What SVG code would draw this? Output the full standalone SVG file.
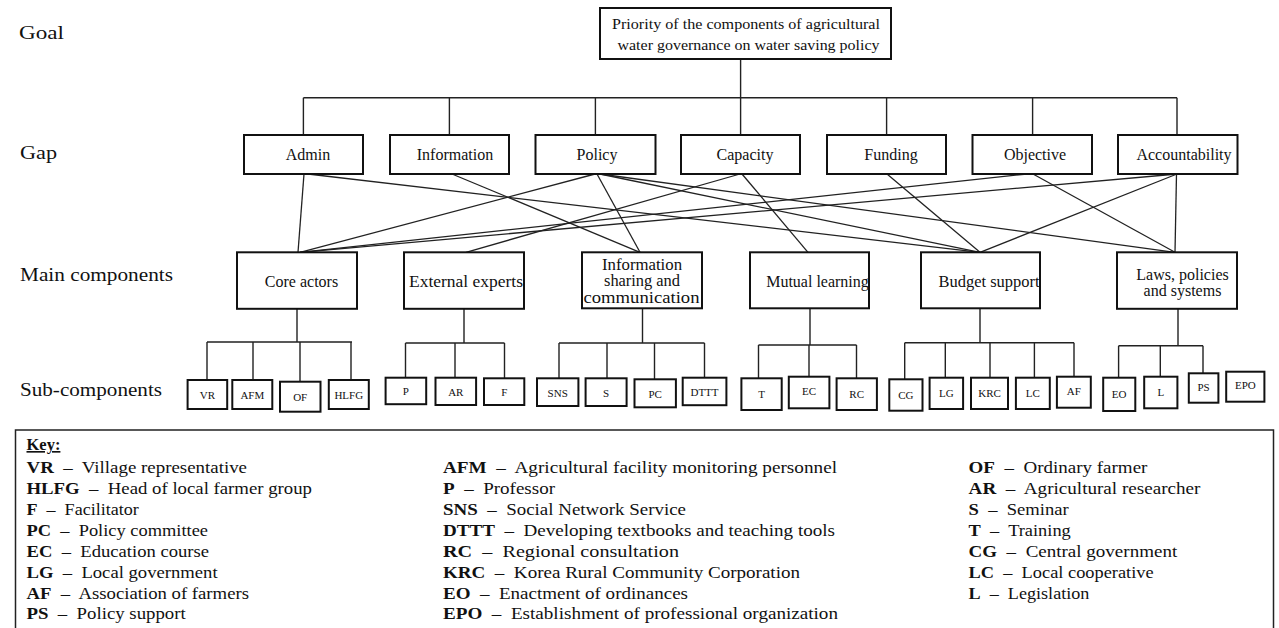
<svg xmlns="http://www.w3.org/2000/svg" width="1279" height="628" viewBox="0 0 1279 628">
  <style>
    text { font-family: "Liberation Serif", "Times New Roman", serif; fill: #111; }
    .box { fill: #fff; stroke: #111; stroke-width: 2; }
    .sub { fill: #fff; stroke: #111; stroke-width: 2; }
    .ln { fill: none; stroke: #222; stroke-width: 1.3; }
    .tree { fill: none; stroke: #222; stroke-width: 1.4; }
    .lvl { font-size: 19.5px; }
    .gap { font-size: 16px; text-anchor: middle; }
    .main { font-size: 16px; text-anchor: middle; }
    .info { font-size: 16px; text-anchor: middle; }
    .sl { font-size: 11px; text-anchor: middle; }
    .goal { font-size: 15px; }
    .key { font-size: 16.5px; }
    .ab { font-weight: bold; }
  </style>

  <!-- level labels -->
  <g id="levels">
    <text class="lvl" x="19" y="39" textLength="45" lengthAdjust="spacingAndGlyphs">Goal</text>
    <text class="lvl" x="20" y="159" textLength="37" lengthAdjust="spacingAndGlyphs">Gap</text>
    <text class="lvl" x="20" y="281" textLength="153" lengthAdjust="spacingAndGlyphs">Main components</text>
    <text class="lvl" x="20" y="396" textLength="142" lengthAdjust="spacingAndGlyphs">Sub-components</text>
  </g>

  <!-- connectors -->
  <g id="connectors">
    <!-- goal to gaps -->
    <path class="tree" d="M740.6 59 V97.7 M303.4 97.7 H1177 M303.4 97.7 V135 M449.4 97.7 V135 M595.4 97.7 V135 M740.6 97.7 V135 M886.6 97.7 V135 M1032.6 97.7 V135 M1177 97.7 V135"/>
    <!-- gaps to main components -->
    <line class="ln" x1="304" y1="174" x2="298" y2="252.3"/>
    <line class="ln" x1="308" y1="174" x2="980" y2="252.3"/>
    <line class="ln" x1="452" y1="174" x2="640" y2="252.3"/>
    <line class="ln" x1="595" y1="174" x2="300" y2="252.3"/>
    <line class="ln" x1="597" y1="174" x2="640" y2="252.3"/>
    <line class="ln" x1="600" y1="174" x2="980" y2="252.3"/>
    <line class="ln" x1="600" y1="174" x2="1175" y2="252.3"/>
    <line class="ln" x1="740" y1="174" x2="466" y2="252.3"/>
    <line class="ln" x1="742" y1="174" x2="808" y2="252.3"/>
    <line class="ln" x1="887" y1="174" x2="980" y2="252.3"/>
    <line class="ln" x1="1027" y1="174" x2="300" y2="252.3"/>
    <line class="ln" x1="1033" y1="174" x2="1175" y2="252.3"/>
    <line class="ln" x1="1177" y1="174" x2="300" y2="252.3"/>
    <line class="ln" x1="1177" y1="174" x2="980" y2="252.3"/>
    <line class="ln" x1="1176.5" y1="174" x2="1175" y2="252.3"/>
    <!-- main components to sub-components -->
    <path class="tree" d="M297 309 V342 M207 342 H352 M207 342 V380 M253 342 V380 M300 342 V381.7 M351 342 V380"/>
    <path class="tree" d="M464 309 V343 M405.5 343 H504.5 M405.5 343 V377.7 M455 343 V377.7 M504.5 343 V378.3"/>
    <path class="tree" d="M642.5 308.5 V343 M559 343 H704.5 M559 343 V378.3 M607 343 V378.3 M654.5 343 V379.3 M704.5 343 V377.7"/>
    <path class="tree" d="M810 308.5 V345 M758.5 345 H856.5 M758.5 345 V378.3 M809 345 V376.7 M856.5 345 V378.3"/>
    <path class="tree" d="M980 308.5 V342.7 M904.7 342.7 H1074 M904.7 342.7 V379.3 M945.3 342.7 V377.7 M990 342.7 V377.7 M1034.4 342.7 V377.7 M1074 342.7 V376.7"/>
    <path class="tree" d="M1178 309 V345.7 M1118.6 345.7 H1203 M1118.6 345.7 V377.7 M1160.3 345.7 V376.7 M1203 345.7 V373.3"/>
  </g>

  <!-- goal -->
  <g id="goal">
    <rect class="box" x="600" y="8" width="291" height="51"/>
    <text class="goal" x="612" y="29" textLength="268" lengthAdjust="spacingAndGlyphs">Priority of the components of agricultural</text>
    <text class="goal" x="617.5" y="50" textLength="262" lengthAdjust="spacingAndGlyphs">water governance on water saving policy</text>
  </g>

  <!-- gaps -->
  <g id="gap-admin"><rect class="box" x="244" y="135" width="119" height="39"/><text class="gap" x="308" y="160">Admin</text></g>
  <g id="gap-information"><rect class="box" x="390" y="135" width="119" height="39"/><text class="gap" x="455" y="160">Information</text></g>
  <g id="gap-policy"><rect class="box" x="535.5" y="135" width="120" height="39"/><text class="gap" x="597" y="160">Policy</text></g>
  <g id="gap-capacity"><rect class="box" x="681" y="135" width="119" height="39"/><text class="gap" x="745" y="160">Capacity</text></g>
  <g id="gap-funding"><rect class="box" x="827" y="135" width="119" height="39"/><text class="gap" x="891" y="160">Funding</text></g>
  <g id="gap-objective"><rect class="box" x="972.5" y="135" width="119.5" height="39"/><text class="gap" x="1035" y="160">Objective</text></g>
  <g id="gap-accountability"><rect class="box" x="1118" y="135" width="119.5" height="39"/><text class="gap" x="1184" y="160">Accountability</text></g>

  <!-- main components -->
  <g id="main-core-actors"><rect class="box" x="237" y="252.3" width="120" height="56.5"/><text class="main" x="301.5" y="287">Core actors</text></g>
  <g id="main-external-experts"><rect class="box" x="404" y="252.3" width="120" height="56.5"/><text class="main" x="466" y="287" textLength="114" lengthAdjust="spacingAndGlyphs">External experts</text></g>
  <g id="main-information-sharing">
    <rect class="box" x="582" y="252.3" width="120" height="56"/>
    <text class="info" x="642" y="269.5" textLength="80" lengthAdjust="spacingAndGlyphs">Information</text>
    <text class="info" x="642" y="286" textLength="76" lengthAdjust="spacingAndGlyphs">sharing and</text>
    <text class="info" x="641.5" y="302.5" textLength="116" lengthAdjust="spacingAndGlyphs">communication</text>
  </g>
  <g id="main-mutual-learning"><rect class="box" x="750" y="252.3" width="119" height="56"/><text class="main" x="817.5" y="287">Mutual learning</text></g>
  <g id="main-budget-support"><rect class="box" x="921" y="252.3" width="119" height="56"/><text class="main" x="989" y="287" textLength="101" lengthAdjust="spacingAndGlyphs">Budget support</text></g>
  <g id="main-laws">
    <rect class="box" x="1117" y="252.3" width="120" height="56.5"/>
    <text class="main" x="1182.5" y="279.5">Laws, policies</text>
    <text class="main" x="1182.5" y="296">and systems</text>
  </g>

  <!-- sub-components -->
  <g id="sub-vr"><rect class="sub" x="187.6" y="380" width="39.6" height="29"/><text class="sl" x="207.4" y="398.5">VR</text></g>
  <g id="sub-afm"><rect class="sub" x="232.3" y="380" width="40" height="29"/><text class="sl" x="252.3" y="398.5">AFM</text></g>
  <g id="sub-of"><rect class="sub" x="280" y="381.7" width="40.5" height="30"/><text class="sl" x="300.2" y="401">OF</text></g>
  <g id="sub-hlfg"><rect class="sub" x="328.8" y="380" width="40" height="29"/><text class="sl" x="348.8" y="398.5">HLFG</text></g>
  <g id="sub-p"><rect class="sub" x="385.6" y="377.7" width="40.6" height="26.5"/><text class="sl" x="405.9" y="395">P</text></g>
  <g id="sub-ar"><rect class="sub" x="435.5" y="377.7" width="40.6" height="27.3"/><text class="sl" x="455.8" y="395.5">AR</text></g>
  <g id="sub-f"><rect class="sub" x="484" y="378.3" width="40.3" height="26.7"/><text class="sl" x="504.2" y="396">F</text></g>
  <g id="sub-sns"><rect class="sub" x="537" y="378.3" width="41.4" height="27.7"/><text class="sl" x="557.7" y="396.5">SNS</text></g>
  <g id="sub-s"><rect class="sub" x="585.6" y="378.3" width="41" height="27.7"/><text class="sl" x="606.1" y="396.5">S</text></g>
  <g id="sub-pc"><rect class="sub" x="634.5" y="379.3" width="41.4" height="28"/><text class="sl" x="655.2" y="398">PC</text></g>
  <g id="sub-dttt"><rect class="sub" x="682.7" y="377.7" width="43.7" height="27.5"/><text class="sl" x="704.5" y="396">DTTT</text></g>
  <g id="sub-t"><rect class="sub" x="741.4" y="378.3" width="40.3" height="31.7"/><text class="sl" x="761.5" y="398">T</text></g>
  <g id="sub-ec"><rect class="sub" x="788.8" y="376.7" width="40.6" height="31.6"/><text class="sl" x="809.1" y="395">EC</text></g>
  <g id="sub-rc"><rect class="sub" x="836.6" y="378.3" width="40.3" height="31.7"/><text class="sl" x="856.7" y="398">RC</text></g>
  <g id="sub-cg"><rect class="sub" x="889.3" y="379.3" width="33.2" height="31.4"/><text class="sl" x="905.9" y="399">CG</text></g>
  <g id="sub-lg"><rect class="sub" x="929.6" y="377.7" width="33.5" height="31.3"/><text class="sl" x="946.3" y="396.5">LG</text></g>
  <g id="sub-krc"><rect class="sub" x="971" y="377.7" width="37" height="31.3"/><text class="sl" x="989.5" y="396.5">KRC</text></g>
  <g id="sub-lc"><rect class="sub" x="1015.9" y="377.7" width="33.9" height="31.3"/><text class="sl" x="1032.8" y="396.5">LC</text></g>
  <g id="sub-af"><rect class="sub" x="1056.9" y="376.7" width="33.9" height="31"/><text class="sl" x="1073.8" y="395">AF</text></g>
  <g id="sub-eo"><rect class="sub" x="1103.2" y="377.7" width="32.1" height="33.3"/><text class="sl" x="1119.2" y="398">EO</text></g>
  <g id="sub-l"><rect class="sub" x="1144.2" y="376.7" width="33.2" height="31.6"/><text class="sl" x="1160.8" y="396">L</text></g>
  <g id="sub-ps"><rect class="sub" x="1188.8" y="373.3" width="29.6" height="29.4"/><text class="sl" x="1203.6" y="390.5">PS</text></g>
  <g id="sub-epo"><rect class="sub" x="1226.2" y="371.7" width="38.2" height="30"/><text class="sl" x="1245.3" y="389">EPO</text></g>

  <!-- key -->
  <g id="key">
    <rect x="15.5" y="430" width="1258" height="220" fill="none" stroke="#222" stroke-width="1.5"/>
    <text class="key ab" x="26.5" y="450" text-decoration="underline">Key:</text>

    <text class="key" x="26.5" y="473.3" textLength="220.5" lengthAdjust="spacingAndGlyphs"><tspan class="ab">VR</tspan> &#160;–&#160; Village representative</text>
    <text class="key" x="26.5" y="494.2" textLength="285.5" lengthAdjust="spacingAndGlyphs"><tspan class="ab">HLFG</tspan> &#160;–&#160; Head of local farmer group</text>
    <text class="key" x="26.5" y="515" textLength="112.3" lengthAdjust="spacingAndGlyphs"><tspan class="ab">F</tspan> &#160;–&#160; Facilitator</text>
    <text class="key" x="26.5" y="535.9" textLength="181.5" lengthAdjust="spacingAndGlyphs"><tspan class="ab">PC</tspan> &#160;–&#160; Policy committee</text>
    <text class="key" x="26.5" y="556.7" textLength="182.5" lengthAdjust="spacingAndGlyphs"><tspan class="ab">EC</tspan> &#160;–&#160; Education course</text>
    <text class="key" x="26.5" y="577.6" textLength="191.1" lengthAdjust="spacingAndGlyphs"><tspan class="ab">LG</tspan> &#160;–&#160; Local government</text>
    <text class="key" x="26.5" y="598.5" textLength="222.5" lengthAdjust="spacingAndGlyphs"><tspan class="ab">AF</tspan> &#160;–&#160; Association of farmers</text>
    <text class="key" x="26.5" y="619.3" textLength="159.2" lengthAdjust="spacingAndGlyphs"><tspan class="ab">PS</tspan> &#160;–&#160; Policy support</text>

    <text class="key" x="443" y="473.3" textLength="394" lengthAdjust="spacingAndGlyphs"><tspan class="ab">AFM</tspan> &#160;–&#160; Agricultural facility monitoring personnel</text>
    <text class="key" x="443" y="494.2" textLength="112" lengthAdjust="spacingAndGlyphs"><tspan class="ab">P</tspan> &#160;–&#160; Professor</text>
    <text class="key" x="443" y="515" textLength="243" lengthAdjust="spacingAndGlyphs"><tspan class="ab">SNS</tspan> &#160;–&#160; Social Network Service</text>
    <text class="key" x="443" y="535.9" textLength="392" lengthAdjust="spacingAndGlyphs"><tspan class="ab">DTTT</tspan> &#160;–&#160; Developing textbooks and teaching tools</text>
    <text class="key" x="443" y="556.7" textLength="236" lengthAdjust="spacingAndGlyphs"><tspan class="ab">RC</tspan> &#160;–&#160; Regional consultation</text>
    <text class="key" x="443" y="577.6" textLength="357" lengthAdjust="spacingAndGlyphs"><tspan class="ab">KRC</tspan> &#160;–&#160; Korea Rural Community Corporation</text>
    <text class="key" x="443" y="598.5" textLength="245" lengthAdjust="spacingAndGlyphs"><tspan class="ab">EO</tspan> &#160;–&#160; Enactment of ordinances</text>
    <text class="key" x="443" y="619.3" textLength="395" lengthAdjust="spacingAndGlyphs"><tspan class="ab">EPO</tspan> &#160;–&#160; Establishment of professional organization</text>

    <text class="key" x="968.6" y="473.3" textLength="178.8" lengthAdjust="spacingAndGlyphs"><tspan class="ab">OF</tspan> &#160;–&#160; Ordinary farmer</text>
    <text class="key" x="968.6" y="494.2" textLength="231.8" lengthAdjust="spacingAndGlyphs"><tspan class="ab">AR</tspan> &#160;–&#160; Agricultural researcher</text>
    <text class="key" x="968.6" y="515" textLength="100.1" lengthAdjust="spacingAndGlyphs"><tspan class="ab">S</tspan> &#160;–&#160; Seminar</text>
    <text class="key" x="968.6" y="535.9" textLength="102.2" lengthAdjust="spacingAndGlyphs"><tspan class="ab">T</tspan> &#160;–&#160; Training</text>
    <text class="key" x="968.6" y="556.7" textLength="208.6" lengthAdjust="spacingAndGlyphs"><tspan class="ab">CG</tspan> &#160;–&#160; Central government</text>
    <text class="key" x="968.6" y="577.6" textLength="185" lengthAdjust="spacingAndGlyphs"><tspan class="ab">LC</tspan> &#160;–&#160; Local cooperative</text>
    <text class="key" x="968.6" y="598.5" textLength="120.8" lengthAdjust="spacingAndGlyphs"><tspan class="ab">L</tspan> &#160;–&#160; Legislation</text>
  </g>
</svg>
